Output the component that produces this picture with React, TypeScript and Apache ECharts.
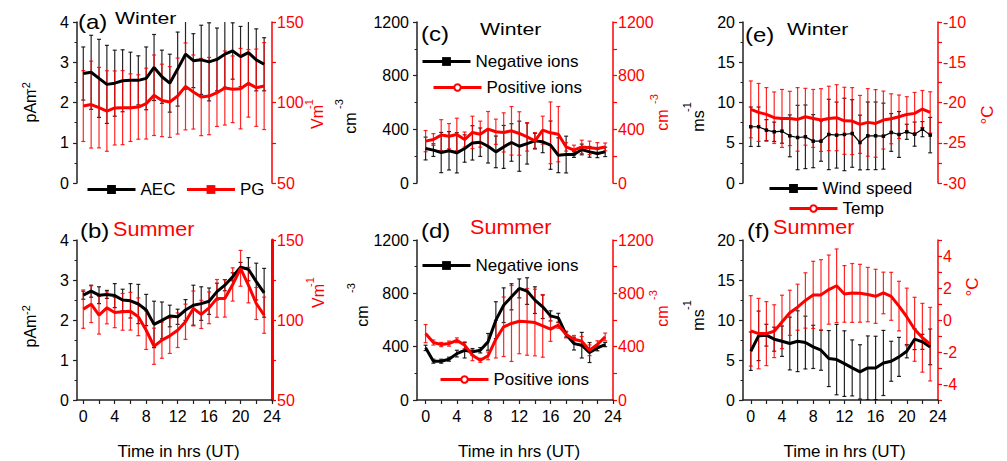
import React, { useEffect, useRef } from 'react';
import * as echarts from 'echarts';

const hours = [0, 1, 2, 3, 4, 5, 6, 7, 8, 9, 10, 11, 12, 13, 14, 15, 16, 17, 18, 19, 20, 21, 22, 23];

// (a) Winter
const aecWinter = [2.72, 2.75, 2.6, 2.45, 2.48, 2.54, 2.55, 2.55, 2.6, 2.87, 2.64, 2.48, 2.83, 3.2, 3.04, 3.06, 3.01, 3.07, 3.2, 3.28, 3.14, 3.24, 3.06, 2.95];
const aecWinterErr = [0.66, 0.92, 0.97, 0.97, 0.82, 0.77, 0.7, 0.61, 0.78, 0.82, 0.66, 0.72, 0.92, 0.87, 0.67, 0.86, 0.97, 0.78, 0.82, 0.7, 0.75, 0.8, 0.77, 0.66];
const pgWinter = [97.8, 98.7, 96.8, 94.7, 96.6, 96.8, 96.8, 97.2, 99.3, 104.5, 101.3, 100.3, 104.0, 110.0, 106.5, 103.4, 104.0, 106.1, 109.0, 108.2, 108.6, 111.9, 109.2, 110.2];
const pgWinterErr = [22, 27, 25, 25, 23, 23, 21, 20, 22, 25, 22.5, 22, 23.6, 27, 23, 24, 24, 21, 23, 20.7, 25, 21, 24, 27];

// (b) Summer
const aecSummer = [2.62, 2.72, 2.62, 2.64, 2.61, 2.5, 2.48, 2.4, 2.25, 1.89, 1.99, 2.1, 2.08, 2.25, 2.37, 2.41, 2.47, 2.71, 2.87, 3.08, 3.32, 3.27, 2.96, 2.68];
const aecSummerErr = [0.1, 0.15, 0.21, 0.1, 0.3, 0.27, 0.43, 0.49, 0.39, 0.58, 0.46, 0.27, 0.19, 0.26, 0.5, 0.42, 0.33, 0.21, 0.14, 0.1, 0.12, 0.29, 0.46, 0.61];
const pgSummer = [106.8, 109.9, 103.0, 107.6, 104.7, 105.1, 105.5, 102.0, 93.6, 83.6, 87.4, 90.1, 93.6, 98.9, 107.2, 103.5, 107.6, 113.5, 113.5, 122.2, 132.3, 121.8, 110.3, 103.0];
const pgSummerErr = [12, 11.5, 11.8, 10, 9.5, 11.5, 11.8, 11.8, 12, 11.3, 11.3, 11, 10.8, 11, 10.9, 8.8, 9.9, 11.8, 11.7, 10.4, 11.2, 11.1, 10, 11.3];

// (c) Winter ions
const negWinter = [257, 245, 227, 240, 225, 257, 299, 304, 274, 232, 269, 302, 274, 294, 314, 307, 282, 207, 212, 212, 250, 232, 220, 232];
const negWinterErr = [85, 47, 150, 143, 150, 102, 128, 106, 125, 118, 160, 140, 187, 153, 56, 81, 180, 130, 137, 21, 40, 40, 31, 35];
const posWinter = [312, 324, 357, 349, 362, 324, 377, 364, 402, 382, 377, 389, 369, 344, 314, 394, 374, 364, 269, 245, 269, 262, 257, 269];
const posWinterErr = [79, 44, 115, 94, 121, 56, 121, 97, 131, 94, 146, 181, 162, 106, 62, 104, 230, 206, 31, 37, 50, 50, 44, 29];

// (d) Summer ions
const negSummer = [391, 291, 291, 306, 348, 373, 361, 373, 436, 599, 711, 774, 837, 817, 749, 699, 631, 616, 491, 423, 411, 356, 391, 416];
const negSummerErr = [20, 15, 15, 15, 25, 58, 25, 20, 63, 138, 130, 98, 71, 100, 100, 88, 38, 34, 19, 48, 96, 75, 22, 16];
const posSummer = [498, 431, 416, 423, 448, 411, 336, 298, 331, 456, 549, 574, 591, 586, 581, 556, 531, 561, 491, 456, 441, 373, 416, 473];
const posSummerErr = [68, 19, 16, 19, 18, 25, 41, 15, 29, 141, 223, 285, 244, 250, 250, 235, 91, 23, 25, 28, 35, 40, 28, 29];

// (e) Winter wind / temperature
const windWinter = [6.99, 6.99, 6.57, 6.36, 6.44, 5.86, 5.65, 5.74, 5.2, 5.2, 6.03, 5.95, 6.03, 6.15, 5.03, 5.86, 5.86, 5.82, 6.28, 6.03, 6.36, 6.07, 6.69, 5.95];
const windWinterErr = [2.45, 2.45, 1.3, 1.2, 1.5, 2.6, 4.0, 3.95, 3.3, 2.5, 4.37, 4.1, 4.5, 4.2, 3.4, 4.2, 4.2, 4.1, 2.35, 2.85, 0.94, 1.5, 0.94, 2.2];
const tempWinter = [-20.85, -21.23, -21.48, -21.89, -21.98, -21.98, -22.1, -21.77, -21.98, -22.18, -21.98, -21.89, -22.27, -22.31, -22.72, -22.47, -22.6, -22.18, -22.02, -21.77, -21.48, -21.35, -20.81, -21.23];
const tempWinterErr = [3.53, 3.6, 3.33, 3.2, 3.6, 3.37, 3.95, 3.53, 3.6, 3.9, 4.0, 4.1, 4.16, 4.16, 3.6, 4.2, 4.2, 3.6, 3.1, 2.7, 2.2, 2.6, 2.3, 2.56];

// (f) Summer wind / temperature
const windSummer = [6.1, 8.02, 8.1, 7.6, 7.35, 7.06, 7.35, 7.18, 6.64, 6.22, 5.18, 5.05, 4.55, 4.01, 3.51, 4.01, 4.01, 4.63, 4.84, 5.39, 6.1, 7.6, 7.27, 6.64];
const windSummerErr = [2.4, 3.1, 1.36, 1.5, 1.9, 3.3, 3.8, 3.3, 2.7, 2.5, 3.5, 4.4, 4.1, 3.5, 3.4, 4.0, 3.96, 4.07, 2.5, 2.44, 0.83, 1.3, 0.94, 2.23];
const tempSummer = [-0.68, -0.85, -0.85, -0.7, -0.12, 0.45, 0.8, 1.22, 1.57, 1.57, 1.9, 2.14, 1.63, 1.69, 1.67, 1.59, 1.48, 1.69, 1.48, 0.87, 0.19, -0.58, -1.11, -1.51];
const tempSummerErr = [2.2, 2.2, 2.0, 1.65, 1.67, 1.41, 1.44, 1.73, 2.1, 2.2, 2.16, 2.3, 1.77, 1.84, 1.81, 1.7, 1.69, 1.3, 1.5, 1.55, 1.8, 2.0, 2.15, 2.3];

const xTickValues = [0, 2, 4, 6, 8, 10, 12, 14, 16, 18, 20, 22, 24];
const xLabelValues = [0, 4, 8, 12, 16, 20, 24];

const FONT = '"Liberation Sans", Arial, Helvetica, sans-serif';
const RED = '#ff0000';
const BLACK = '#000000';
const AXIS = '#222222';

export default function App() {
  const ref = useRef<HTMLDivElement>(null);

  useEffect(() => {
    const chart = echarts.init(ref.current as HTMLDivElement, null, { renderer: 'svg' });

    const grids = [
      { left: 77, top: 22, width: 195, height: 161 },
      { left: 77, top: 240, width: 195, height: 160 },
      { left: 417, top: 22, width: 196, height: 161 },
      { left: 417, top: 240, width: 196, height: 160 },
      { left: 743, top: 22, width: 195, height: 161 },
      { left: 743, top: 240, width: 195, height: 160 },
    ];
    const xRanges = [[-0.8, 24], [-0.8, 24], [-1.1, 24], [-1.1, 24], [-1, 24], [-1, 24]];

    const xAxes = grids.map((g, i) => {
      const bottom = i % 2 === 1;
      return {
        type: 'value',
        gridIndex: i,
        min: xRanges[i][0],
        max: xRanges[i][1],
        show: bottom,
        axisLine: { show: true, onZero: false, lineStyle: { color: AXIS, width: 1.5 } },
        axisTick: { show: true, customValues: xTickValues, length: 4, lineStyle: { color: AXIS, width: 1.2 } },
        axisLabel: { customValues: xLabelValues, fontSize: 16, color: BLACK, fontFamily: FONT, margin: 8 },
        splitLine: { show: false },
        name: bottom ? 'Time in hrs (UT)' : '',
        nameLocation: 'middle',
        nameGap: 43,
        nameTextStyle: { fontSize: 17, color: BLACK, fontFamily: FONT, padding: [0, 0, 0, 8] },
      };
    });

    const leftCfg = [
      { min: 0, max: 4, interval: 1 },
      { min: 0, max: 4, interval: 1 },
      { min: 0, max: 1200, interval: 400 },
      { min: 0, max: 1200, interval: 400 },
      { min: 0, max: 20, interval: 5 },
      { min: 0, max: 20, interval: 5 },
    ];
    const rightCfg = [
      { min: 50, max: 150, interval: 25, step: 50 },
      { min: 50, max: 150, interval: 25, step: 50 },
      { min: 0, max: 1200, interval: 200, step: 400 },
      { min: 0, max: 1200, interval: 200, step: 400 },
      { min: -30, max: -10, interval: 2.5, step: 5 },
      { min: -5, max: 5, interval: 1, step: 2 },
    ];

    const yAxes: any[] = [];
    grids.forEach((g, i) => {
      yAxes.push({
        type: 'value',
        gridIndex: i,
        position: 'left',
        min: leftCfg[i].min,
        max: leftCfg[i].max,
        interval: leftCfg[i].interval,
        axisLine: { show: true, onZero: false, lineStyle: { color: AXIS, width: 1.5 } },
        axisTick: { show: true, length: 4, lineStyle: { color: AXIS, width: 1.2 } },
        minorTick: { show: true, splitNumber: 2, length: 2.5, lineStyle: { color: AXIS, width: 1 } },
        axisLabel: { fontSize: 16, color: BLACK, fontFamily: FONT, margin: 8, formatter: (v: number) => String(v) },
        splitLine: { show: false },
      });
      const rc = rightCfg[i];
      yAxes.push({
        type: 'value',
        gridIndex: i,
        position: 'right',
        min: rc.min,
        max: rc.max,
        interval: rc.interval,
        axisLine: { show: true, onZero: false, lineStyle: { color: RED, width: i === 1 ? 3 : 1.5 } },
        axisTick: { show: true, length: 4, lineStyle: { color: RED, width: 1.2 } },
        axisLabel: {
          fontSize: 16,
          color: RED,
          fontFamily: FONT,
          margin: 5,
          formatter: (v: number) => {
            const r = Math.round(v * 100) / 100;
            if (i === 5 && Math.abs(r) >= 5) return '';
            return Math.abs(r / rc.step - Math.round(r / rc.step)) < 1e-6 ? String(r) : '';
          },
        },
        splitLine: { show: false },
      });
    });

    const errSeries = (name: string, mean: number[], err: number[], color: string, gi: number, right: boolean) => ({
      type: 'custom',
      name,
      xAxisIndex: gi,
      yAxisIndex: gi * 2 + (right ? 1 : 0),
      silent: true,
      clip: true,
      z: 2,
      data: hours.map((h, k) => [h, mean[k], err[k]]),
      encode: { x: 0, y: 1 },
      renderItem: (_params: any, api: any) => {
        const x = api.value(0);
        const m = api.value(1);
        const e = api.value(2);
        const t = api.coord([x, m + e]);
        const b = api.coord([x, m - e]);
        const style = { stroke: color, lineWidth: 1.2 };
        return {
          type: 'group',
          children: [
            { type: 'line', shape: { x1: t[0], y1: t[1], x2: b[0], y2: b[1] }, style },
            { type: 'line', shape: { x1: t[0] - 2, y1: t[1], x2: t[0] + 2, y2: t[1] }, style },
            { type: 'line', shape: { x1: b[0] - 2, y1: b[1], x2: b[0] + 2, y2: b[1] }, style },
          ],
        };
      },
    });

    const lineSeries = (name: string, vals: number[], color: string, gi: number, right: boolean, symbol: string, width = 3, showSymbol = false, symbolSize = 4) => ({
      type: 'line',
      name,
      xAxisIndex: gi,
      yAxisIndex: gi * 2 + (right ? 1 : 0),
      data: hours.map((h, k) => [h, vals[k]]),
      symbol,
      showSymbol,
      symbolSize,
      silent: true,
      z: 3,
      lineStyle: { color, width },
      itemStyle: { color },
    });

    const BLK_ERR = 'rgba(0,0,0,0.85)';
    const RED_ERR = 'rgba(255,0,0,0.85)';

    const series: any[] = [
      // (a)
      errSeries('AEC err w', aecWinter, aecWinterErr, BLK_ERR, 0, false),
      errSeries('PG err w', pgWinter, pgWinterErr, RED_ERR, 0, true),
      lineSeries('AEC', aecWinter, BLACK, 0, false, 'rect'),
      lineSeries('PG', pgWinter, RED, 0, true, 'rect'),
      // (b)
      errSeries('AEC err s', aecSummer, aecSummerErr, BLK_ERR, 1, false),
      errSeries('PG err s', pgSummer, pgSummerErr, RED_ERR, 1, true),
      lineSeries('AEC', aecSummer, BLACK, 1, false, 'rect'),
      lineSeries('PG', pgSummer, RED, 1, true, 'rect'),
      // (c)
      errSeries('neg err w', negWinter, negWinterErr, BLK_ERR, 2, false),
      errSeries('pos err w', posWinter, posWinterErr, RED_ERR, 2, true),
      lineSeries('Negative ions', negWinter, BLACK, 2, false, 'rect'),
      lineSeries('Positive ions', posWinter, RED, 2, true, 'emptyCircle'),
      // (d)
      errSeries('neg err s', negSummer, negSummerErr, BLK_ERR, 3, false),
      errSeries('pos err s', posSummer, posSummerErr, RED_ERR, 3, true),
      lineSeries('Negative ions', negSummer, BLACK, 3, false, 'rect'),
      lineSeries('Positive ions', posSummer, RED, 3, true, 'emptyCircle'),
      // (e)
      errSeries('wind err w', windWinter, windWinterErr, BLK_ERR, 4, false),
      errSeries('temp err w', tempWinter, tempWinterErr, RED_ERR, 4, true),
      lineSeries('Wind speed', windWinter, BLACK, 4, false, 'rect', 1.2, true, 3.5),
      lineSeries('Temp', tempWinter, RED, 4, true, 'emptyCircle'),
      // (f)
      errSeries('wind err s', windSummer, windSummerErr, BLK_ERR, 5, false),
      errSeries('temp err s', tempSummer, tempSummerErr, RED_ERR, 5, true),
      lineSeries('Wind speed', windSummer, BLACK, 5, false, 'rect'),
      lineSeries('Temp', tempSummer, RED, 5, true, 'emptyCircle'),
    ];

    const legendBase = {
      orient: 'horizontal',
      padding: 0,
      itemWidth: 48,
      itemGap: 10,
      selectedMode: false,
      lineStyle: { width: 3 },
      textStyle: { fontSize: 17, color: BLACK, fontFamily: FONT },
    };
    const legends = [
      { ...legendBase, data: ['AEC', 'PG'], left: 86, top: 181, itemHeight: 11 },
      { ...legendBase, data: ['Negative ions'], left: 421, top: 53, itemHeight: 11 },
      { ...legendBase, data: ['Positive ions'], left: 432, top: 79, itemHeight: 8 },
      { ...legendBase, data: ['Negative ions'], left: 421, top: 257, itemHeight: 11 },
      { ...legendBase, data: ['Positive ions'], left: 439, top: 371, itemHeight: 8 },
      { ...legendBase, data: ['Wind speed'], left: 768, top: 180, itemHeight: 11 },
      { ...legendBase, data: ['Temp'], left: 788, top: 200, itemHeight: 8 },
    ];

    const htext = (x: number, y: number, text: string, color: string, size: number, sx: number) => ({
      type: 'text',
      x,
      y,
      scaleX: sx,
      silent: true,
      style: { text, fill: color, fontSize: size, fontFamily: FONT, align: 'left', verticalAlign: 'middle' },
    });
    const vtext = (x: number, y: number, text: string, color: string, size: number) => ({
      type: 'text',
      x,
      y,
      rotation: Math.PI / 2,
      silent: true,
      style: { text, fill: color, fontSize: size, fontFamily: FONT, align: 'center', verticalAlign: 'middle' },
    });

    const graphic = [
      htext(78, 22, '(a)', BLACK, 20, 1.2),
      htext(115, 18, 'Winter', BLACK, 17, 1.25),
      htext(80, 231, '(b)', BLACK, 20, 1.2),
      htext(113, 229, 'Summer', RED, 20, 1.08),
      htext(421, 34, '(c)', BLACK, 20, 1.2),
      htext(480, 29, 'Winter', BLACK, 17, 1.25),
      htext(421, 231, '(d)', BLACK, 20, 1.2),
      htext(470, 227, 'Summer', RED, 20, 1.08),
      htext(745, 35, '(e)', BLACK, 20, 1.2),
      htext(787, 29, 'Winter', BLACK, 17, 1.25),
      htext(747, 231, '(f)', BLACK, 20, 1.2),
      htext(773, 227, 'Summer', RED, 20, 1.08),
      // unit labels
      vtext(30, 106, 'pAm', BLACK, 16),
      vtext(26, 87, '-2', BLACK, 11),
      vtext(30, 331, 'pAm', BLACK, 16),
      vtext(26, 310, '-2', BLACK, 11),
      vtext(317, 117, 'Vm', RED, 16),
      vtext(309, 104, '-1', RED, 11),
      vtext(318, 296, 'Vm', RED, 16),
      vtext(310, 282, '-1', RED, 11),
      vtext(350, 123, 'cm', BLACK, 16),
      vtext(339, 104, '-3', BLACK, 11),
      vtext(662, 120, 'cm', RED, 16),
      vtext(654, 99, '-3', RED, 11),
      vtext(362, 316, 'cm', BLACK, 16),
      vtext(351, 288, '-3', BLACK, 11),
      vtext(662, 316, 'cm', RED, 16),
      vtext(653, 295, '-3', RED, 11),
      vtext(698, 121, 'ms', BLACK, 16),
      vtext(687, 107, '-1', BLACK, 11),
      vtext(698, 320, 'ms', BLACK, 16),
      vtext(687, 305, '-1', BLACK, 11),
      vtext(987, 115, '°C', RED, 17),
      vtext(972, 287, '°C', RED, 17),
    ];

    chart.setOption({
      animation: false,
      backgroundColor: '#ffffff',
      textStyle: { fontFamily: FONT },
      grid: grids,
      xAxis: xAxes,
      yAxis: yAxes,
      legend: legends,
      series,
      graphic,
    });

    return () => chart.dispose();
  }, []);

  return <div ref={ref} style={{ position: 'absolute', left: 0, top: 0, width: 1007, height: 461, background: '#fff' }} />;
}
